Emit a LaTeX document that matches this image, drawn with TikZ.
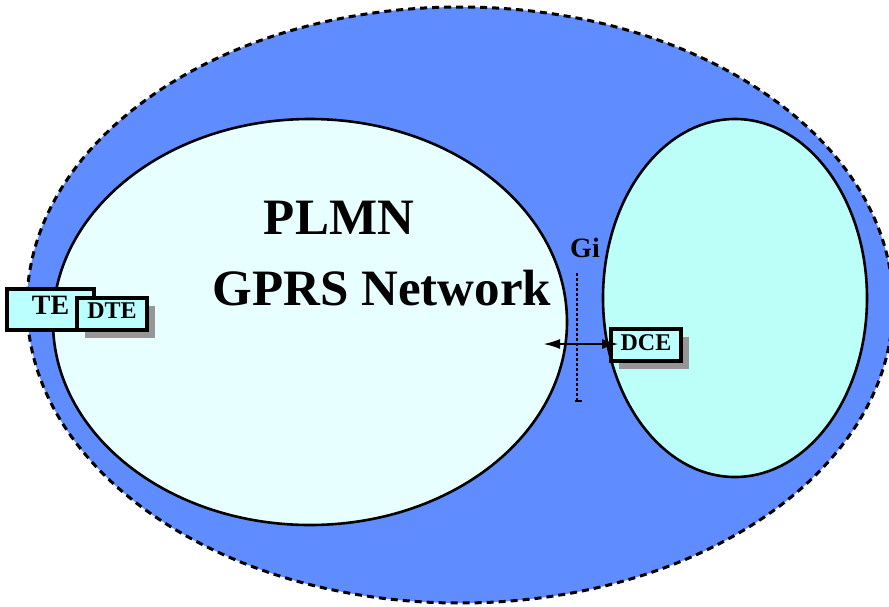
\documentclass[tikz,border=0pt]{standalone}
\usepackage{fontspec}
\setmainfont{Liberation Serif}
\usetikzlibrary{shapes.geometric,arrows.meta,shadows}
\definecolor{outerblue}{RGB}{95,141,255}
\definecolor{plmnfill}{RGB}{232,255,255}
\definecolor{extfill}{RGB}{187,255,248}
\definecolor{boxfill}{RGB}{187,255,255}
\definecolor{shadowgray}{RGB}{150,150,150}
\tikzset{
  region/.style={ellipse, inner sep=0pt, draw=black, line width=2.6pt},
  termbox/.style={rectangle, draw=black, line width=3.3pt, fill=boxfill, inner sep=0pt, font=\bfseries},
  shadowed/.style={drop shadow={shadow xshift=8pt, shadow yshift=-8pt, fill=shadowgray, opacity=1}},
  bigtext/.style={font=\fontsize{51}{55}\selectfont\bfseries, inner sep=0pt},
}
\begin{document}
\begin{tikzpicture}[x=1pt,y=-1pt]
\useasboundingbox (0,0) rectangle (889,606);
\node[region, minimum width=866pt, minimum height=596pt, fill=outerblue,
      line width=3pt, dash pattern=on 7pt off 5pt] (world) at (460,305) {};
\node[region, minimum width=514pt, minimum height=406pt, fill=plmnfill] (plmn) at (310,322) {};
\node[region, minimum width=264pt, minimum height=358pt, fill=extfill] (ext) at (735,298) {};
\node[bigtext] (t1) at (339,218) {PLMN};
\node[bigtext] (t2) at (382,288) {GPRS Network};
\node[font=\fontsize{28}{30}\selectfont\bfseries, inner sep=0pt] (gi) at (585,248) {Gi};
\coordinate (gitop) at (577,273);
\coordinate (gibot) at (577,400);
\draw[line width=2.6pt, dash pattern=on 2.5pt off 2.5pt] (gitop) -- (gibot);
\coordinate (tickL) at (575,401);
\coordinate (tickR) at (582,401);
\draw[line width=2.5pt] (tickL) -- (tickR);
\node[termbox, shadowed, minimum width=70pt, minimum height=32pt,
      font=\fontsize{24}{26}\selectfont\bfseries, text depth=5pt] (dce) at (646,345) {DCE};
\coordinate (arrL) at (543,344);
\coordinate (arrR) at (619,344);
\draw[line width=2.4pt, {Latex[length=17pt,width=10pt]}-{Latex[length=17pt,width=10pt]}] (arrL) -- (arrR);
\node[termbox, minimum width=87pt, minimum height=41pt,
      font=\fontsize{28}{30}\selectfont\bfseries, text depth=9pt] (te) at (50.5,309.5) {TE};
\node[termbox, shadowed, minimum width=70pt, minimum height=32pt,
      font=\fontsize{24}{26}\selectfont\bfseries, text depth=6pt] (dte) at (112,314) {DTE};
\end{tikzpicture}
\end{document}
